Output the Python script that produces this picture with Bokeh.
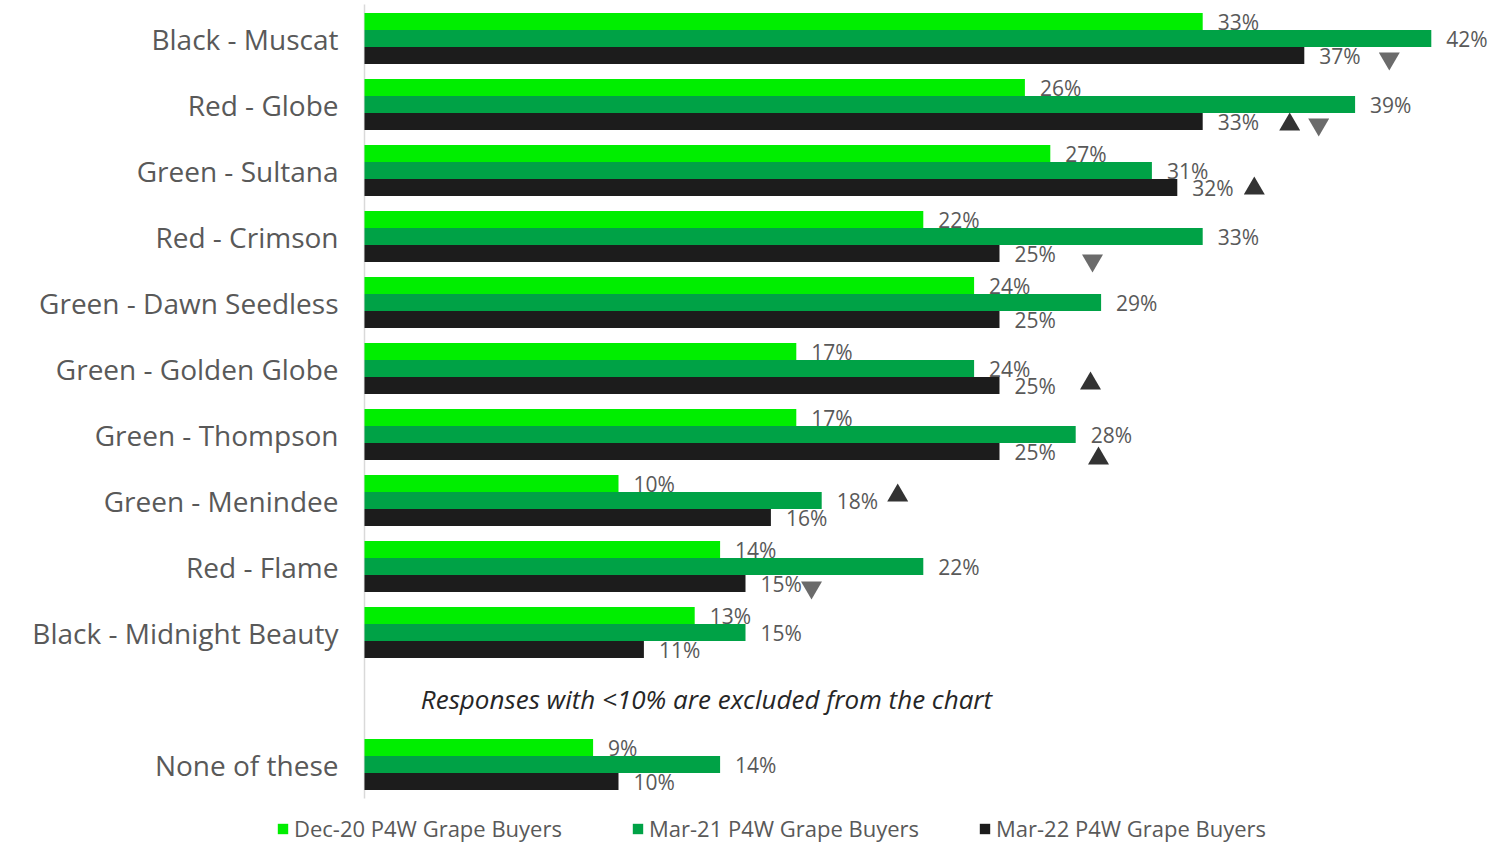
from bokeh.plotting import figure
from bokeh.models import ColumnDataSource, Range1d, Legend, LegendItem
from bokeh.embed import file_html
from bokeh.resources import INLINE
from bokeh.core.properties import value

# ---------------- data ----------------
categories = ["Black - Muscat", "Red - Globe", "Green - Sultana", "Red - Crimson",
              "Green - Dawn Seedless", "Green - Golden Globe", "Green - Thompson",
              "Green - Menindee", "Red - Flame", "Black - Midnight Beauty", "None of these"]
series_names = ["Dec-20 P4W Grape Buyers", "Mar-21 P4W Grape Buyers", "Mar-22 P4W Grape Buyers"]
dec20 = [33, 26, 27, 22, 24, 17, 17, 10, 14, 13, 9]
mar21 = [42, 39, 31, 33, 29, 24, 28, 18, 22, 15, 14]
mar22 = [37, 33, 32, 25, 25, 25, 25, 16, 15, 11, 10]
note_text = "Responses with <10% are excluded from the chart"

# significance markers
sig_category = ["Black - Muscat", "Red - Globe", "Red - Globe", "Green - Sultana", "Red - Crimson",
                "Green - Golden Globe", "Green - Thompson", "Green - Menindee", "Red - Flame"]
sig_series = [2, 2, 2, 2, 2, 2, 2, 1, 2]
sig_dir = ["down", "up", "down", "up", "down", "up", "up", "up", "down"]

# ---------------- style / layout ----------------
sig_dx_px = [85, 87, 116, 77, 93, 91, 99, 76, 66]
sig_dy_px = [3, 3, 3, 1, 7, -2, 7, -5, 4]
legend_x_px = [276, 631, 978]
colors = ["#00EE00", "#00A246", "#1C1C1C"]
FONT = "Open Sans"
W, H = 1488, 843
AXIS_X = 364
SLOT_PX = 66.0
FIRST_SLOT_Y = 38.0
BAR_PX = 17.0
px_x = 25.4
bar_h = BAR_PX / SLOT_PX
Y_TOP = -FIRST_SLOT_Y / SLOT_PX
Y_BOT = Y_TOP + H / SLOT_PX

# slot index: the last category sits after a one-slot gap holding the note
slots = [i if c != "None of these" else i + 1 for i, c in enumerate(categories)]
note_slot = slots[-1] - 1

p = figure(frame_width=W, frame_height=H, output_backend="svg",
           toolbar_location=None,
           x_range=Range1d(-AXIS_X / px_x, (W - AXIS_X) / px_x),
           y_range=Range1d(Y_BOT, Y_TOP),
           x_axis_location=None, y_axis_location=None,
           min_border=0)
p.outline_line_color = None
p.xgrid.visible = False
p.ygrid.visible = False
p.background_fill_color = "white"

# category axis: line + labels
p.segment(x0=[0], y0=[-0.5 - 0.015], x1=[0], y1=[slots[-1] + 0.515],
          line_color="#D9D9D9", line_width=1.5)
p.text(x=[0] * len(slots), y=slots, text=categories, x_offset=-26,
       text_align="right", text_baseline="middle", text_font=value(FONT),
       text_font_size="28px", text_color="#595959")

all_vals = [dec20, mar21, mar22]
renderers = []
for k, vals in enumerate(all_vals):
    ys = [s + (k - 1) * bar_h for s in slots]
    src = ColumnDataSource(dict(y=ys, right=vals, lbl=[f"{v}%" for v in vals]))
    r = p.hbar(y="y", left=0, right="right", height=bar_h, source=src,
               fill_color=colors[k], line_color=None)
    renderers.append(r)
    p.text(x="right", y="y", text="lbl", source=src, x_offset=15,
           text_baseline="middle", text_align="left",
           text_font=value(FONT), text_font_size="21px", text_color="#595959")

# significance triangles
for direction, marker, col in [("up", "triangle", "#333333"), ("down", "inverted_triangle", "#6B6B6B")]:
    xs, ys = [], []
    for c, s, d, dx, dy in zip(sig_category, sig_series, sig_dir, sig_dx_px, sig_dy_px):
        if d != direction:
            continue
        i = categories.index(c)
        xs.append(all_vals[s][i] + dx / px_x)
        ys.append(slots[i] + (s - 1) * bar_h + dy / SLOT_PX)
    p.scatter(x=xs, y=ys, marker=marker, size=21, fill_color=col, line_color=None)

# note
p.text(x=[(706 - AXIS_X) / px_x], y=[note_slot], text=[note_text], text_align="center",
       text_baseline="middle", text_font=value(FONT), text_font_size="26px",
       text_font_style="italic", text_color="#262626")

# legend: one entry per series, placed along the bottom
for name, r, lx in zip(series_names, renderers, legend_x_px):
    lg = Legend(items=[LegendItem(label=name, renderers=[r])],
                orientation="horizontal", location=(lx, 0),
                glyph_width=13, glyph_height=13, label_standoff=5, spacing=0,
                label_text_font=FONT, label_text_font_size="22px", label_text_color="#595959",
                border_line_color=None, background_fill_alpha=0, padding=0, margin=0)
    p.add_layout(lg, "center")

open("out.html", "w").write(file_html(p, INLINE))
